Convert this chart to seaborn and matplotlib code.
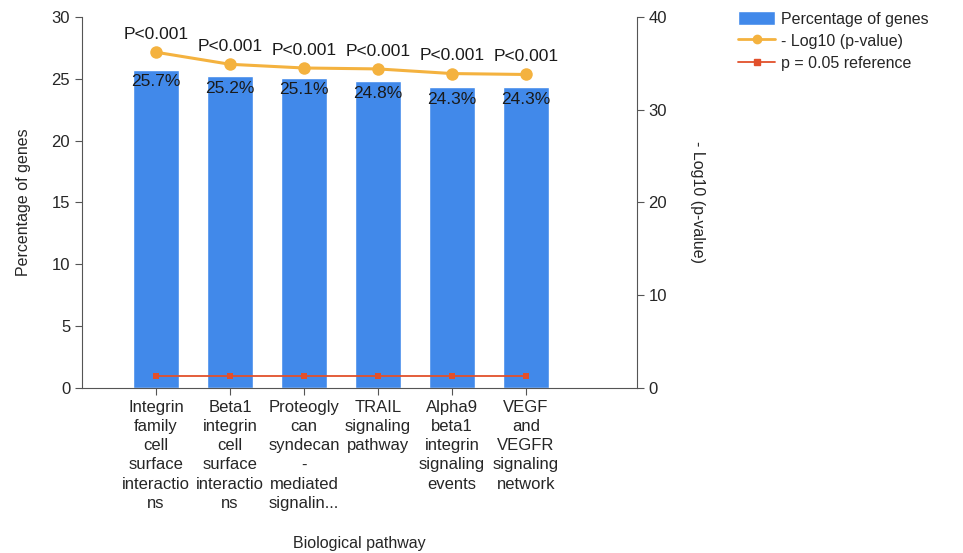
import pandas as pd
import numpy as np
import seaborn as sns
import matplotlib.pyplot as plt
from matplotlib.patches import Patch
from matplotlib.lines import Line2D

sns.set_style("ticks")
plt.rcParams['font.family'] = ['Liberation Sans', 'DejaVu Sans']

# data
pathways = [
    "Integrin\nfamily\ncell\nsurface\ninteractio\nns",
    "Beta1\nintegrin\ncell\nsurface\ninteractio\nns",
    "Proteogly\ncan\nsyndecan\n-\nmediated\nsignalin...",
    "TRAIL\nsignaling\npathway",
    "Alpha9\nbeta1\nintegrin\nsignaling\nevents",
    "VEGF\nand\nVEGFR\nsignaling\nnetwork",
]
pct_genes = [25.7, 25.2, 25.1, 24.8, 24.3, 24.3]
neg_log10_p = [36.2, 34.9, 34.5, 34.4, 33.9, 33.8]
ref_line = [1.3, 1.3, 1.3, 1.3, 1.3, 1.3]
p_labels = ["P<0.001"] * 6

df = pd.DataFrame({
    "pathway": pathways,
    "pct": pct_genes,
    "nlp": neg_log10_p,
    "ref": ref_line,
})
df["pos"] = np.arange(len(df))

bar_color = "#4189ea"
line_color = "#f4b23f"
ref_color = "#e2502b"

fig = plt.figure(figsize=(9.63, 5.53), dpi=100)
ax = fig.add_axes([0.0852, 0.2984, 0.576, 0.6709])

sns.barplot(data=df, x="pos", y="pct", color=bar_color, width=0.62,
            saturation=1, ax=ax, native_scale=True)
for x, v in zip(df["pos"], df["pct"]):
    ax.text(x, v - 0.35, f"{v}%", ha="center", va="top", fontsize=12.5, color="#1a1a1a")

ax.set_ylim(0, 30)
ax.set_xlim(-1, 6.5)
ax.set_yticks([0, 5, 10, 15, 20, 25, 30])
ax.set_xticks(df["pos"])
ax.set_xticklabels(pathways, fontsize=12, linespacing=1.35)
ax.set_ylabel("Percentage of genes", fontsize=11.5, labelpad=15)
ax.set_xlabel("Biological pathway", fontsize=11.5, labelpad=18)
ax.tick_params(axis="y", labelsize=12, length=5, color="#555555")
ax.tick_params(axis="x", length=5, color="#555555")
ax.spines["top"].set_visible(False)
ax.spines["right"].set_visible(False)
for s in ["left", "bottom"]:
    ax.spines[s].set_color("#555555")

ax2 = ax.twinx()
sns.lineplot(data=df, x="pos", y="nlp", color=line_color, marker="o",
             markersize=9, markeredgewidth=0, linewidth=2.2, ax=ax2)
sns.lineplot(data=df, x="pos", y="ref", color=ref_color, marker="s",
             markersize=5, markeredgewidth=0, linewidth=1.3, ax=ax2)
for x, v, t in zip(df["pos"], df["nlp"], p_labels):
    ax2.text(x, v + 1.1, t, ha="center", va="bottom", fontsize=12.5, color="#1a1a1a")
ax2.set_ylim(0, 40)
ax2.set_yticks([0, 10, 20, 30, 40])
ax2.set_ylabel("- Log10 (p-value)", fontsize=11.5, rotation=270, labelpad=27)
ax2.tick_params(axis="y", labelsize=12, length=5, color="#555555")
for s in ["top", "left", "bottom"]:
    ax2.spines[s].set_visible(False)
ax2.spines["right"].set_color("#555555")

handles = [
    Patch(facecolor=bar_color, label="Percentage of genes"),
    Line2D([0], [0], color=line_color, marker="o", markersize=6, lw=2, label="- Log10 (p-value)"),
    Line2D([0], [0], color=ref_color, marker="s", markersize=4, lw=1.3, label="p = 0.05 reference"),
]
fig.legend(handles=handles, loc="upper left", bbox_to_anchor=(0.755, 1.0),
           frameon=False, fontsize=11.5, handlelength=2.3, handleheight=1.0,
           handletextpad=0.4, labelspacing=0.4, borderaxespad=0.3)

fig.savefig("out.png", dpi=100)
